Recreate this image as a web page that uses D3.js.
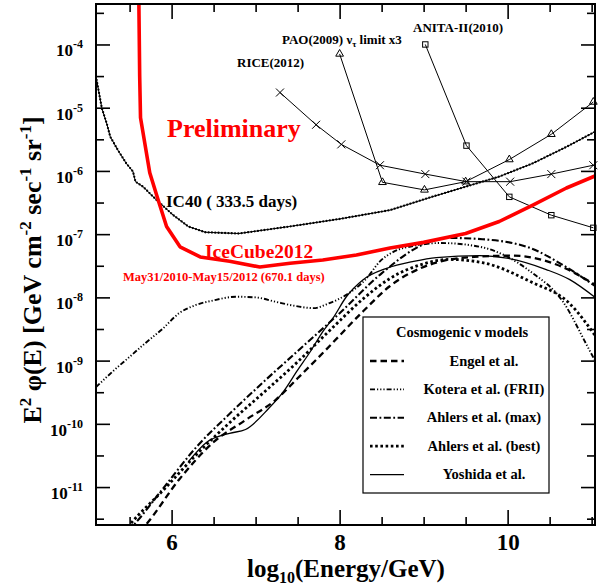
<!DOCTYPE html>
<html lang="en">

<head>
    <meta charset="UTF-8">
    <title>IceCube EHE neutrino limit</title>
    <script src="https://cdnjs.cloudflare.com/ajax/libs/d3/7.8.5/d3.min.js"></script>
    <style>
        body {
            margin: 0;
            background-color: white;
        }

        svg text {
            font-family: "Liberation Serif", "Times New Roman", serif;
            font-weight: bold;
        }
    </style>
</head>

<body>
    <div id="chart"></div>
    <script>
        // points are [log10(E/GeV), log10(E^2 phi)]
        const iceCube2012 = [[5.61, -3.3], [5.62, -4.5], [5.63, -5.16], [5.74, -6.03], [5.84, -6.46], [5.94, -6.88],
            [6.10, -7.20], [6.34, -7.36], [6.69, -7.43], [7.05, -7.52], [7.41, -7.46], [7.80, -7.41], [8.20, -7.33],
            [8.60, -7.22], [9.00, -7.13], [9.50, -6.99], [9.90, -6.80], [10.30, -6.54], [10.70, -6.27], [11.04, -6.08]];
        const ic40 = [[5.10, -4.51], [5.17, -5.01], [5.23, -5.26], [5.27, -5.46], [5.36, -5.67], [5.46, -5.88],
            [5.54, -6.01], [5.57, -6.17], [5.66, -6.25], [5.82, -6.46], [6.02, -6.70], [6.20, -6.88], [6.40, -6.97],
            [6.80, -6.99], [7.40, -6.88], [8.00, -6.76], [8.60, -6.62], [9.10, -6.41], [9.90, -6.09], [10.30, -5.88],
            [10.70, -5.62], [11.04, -5.38]];
        const rice = [[7.29, -4.76], [7.72, -5.27], [8.02, -5.58], [8.48, -5.91], [9.02, -6.05], [9.51, -6.17],
            [10.03, -6.17], [10.52, -6.05], [11.02, -5.91]];
        const pao = [[8.00, -4.15], [8.51, -6.18], [9.01, -6.30], [9.50, -6.17], [10.02, -5.82], [10.52, -5.42],
            [11.02, -4.91]];
        const anita = [[9.02, -4.00], [9.51, -5.60], [10.02, -6.41], [10.52, -6.70], [11.02, -6.90]];

        // cosmogenic models
        const engel = [[5.62, -11.7], [5.69, -11.6], [6.09, -10.88], [6.49, -10.30], [6.88, -9.94], [7.24, -9.62],
            [7.50, -9.28], [7.80, -8.88], [8.28, -8.22], [8.60, -7.82], [8.96, -7.54], [9.15, -7.45], [9.60, -7.36],
            [10.07, -7.34], [10.58, -7.48], [11.04, -7.80]];
        const kotera = [[5.10, -9.42], [5.30, -9.17], [5.50, -8.94], [5.69, -8.72], [5.89, -8.50], [6.09, -8.25],
            [6.29, -8.12], [6.49, -8.05], [6.77, -7.99], [7.00, -8.00], [7.24, -8.07], [7.45, -8.13], [7.69, -8.17],
            [7.88, -8.09], [8.08, -7.96], [8.32, -7.70], [8.48, -7.43], [8.64, -7.28], [8.90, -7.18], [9.20, -7.14],
            [9.67, -7.20], [10.27, -7.59], [10.66, -8.07], [10.94, -8.75], [11.04, -9.00]];
        const ahlersMax = [[5.48, -11.7], [5.55, -11.6], [5.90, -11.02], [6.30, -10.36], [6.70, -9.83], [7.10, -9.33],
            [7.50, -8.85], [8.00, -8.25], [8.50, -7.62], [9.00, -7.16], [9.30, -7.06], [9.70, -7.08], [10.27, -7.22],
            [10.66, -7.49], [11.04, -7.82]];
        const ahlersBest = [[5.44, -11.7], [5.50, -11.6], [5.90, -11.05], [6.30, -10.48], [6.70, -9.97], [7.10, -9.50],
            [7.50, -9.02], [7.90, -8.50], [8.30, -8.00], [8.60, -7.70], [9.00, -7.47], [9.30, -7.40], [9.70, -7.45],
            [10.27, -7.75], [10.74, -8.10], [11.04, -8.60]];
        const yoshida = [[6.20, -10.60], [6.41, -10.30], [6.69, -10.15], [6.88, -10.09], [7.16, -9.75], [7.32, -9.51],
            [7.50, -9.15], [7.65, -8.86], [7.80, -8.54], [7.92, -8.33], [8.08, -7.99], [8.28, -7.72], [8.56, -7.54],
            [8.88, -7.43], [9.15, -7.37], [9.67, -7.34], [9.99, -7.38], [10.46, -7.56], [10.74, -7.72], [11.04, -8.00]];

        const modelNames = ["Engel et al.", "Kotera et al. (FRII)", "Ahlers et al. (max)", "Ahlers et al. (best)", "Yoshida et al."];

        const xTicks = [6, 8, 10];
        const yExponents = [-11, -10, -9, -8, -7, -6, -5, -4];

        const width = 600;
        const height = 588;
        const plot = { left: 96, right: 595, top: 4, bottom: 525 };

        const svg = d3.select("#chart")
            .append("svg")
            .attr("width", width)
            .attr("height", height);

        const x = d3.scaleLinear()
            .domain([5.1, 11.04])
            .range([plot.left, plot.right]);

        const y = d3.scaleLog()
            .domain([Math.pow(10, -11.6), Math.pow(10, -3.36)])
            .range([plot.bottom, plot.top]);

        const line = d3.line()
            .x(d => x(d[0]))
            .y(d => y(Math.pow(10, d[1])));

        const smooth = d3.line()
            .x(d => x(d[0]))
            .y(d => y(Math.pow(10, d[1])))
            .curve(d3.curveMonotoneX);

        svg.append("clipPath")
            .attr("id", "plot-clip")
            .append("rect")
            .attr("x", plot.left)
            .attr("y", plot.top)
            .attr("width", plot.right - plot.left)
            .attr("height", plot.bottom - plot.top);

        const g = svg.append("g").attr("clip-path", "url(#plot-clip)");

        // model curves
        const models = [
            { data: engel, dash: "6.5,4", width: 2.3 },
            { data: kotera, dash: "5,2,1.2,2,1.2,2,1.2,2", width: 1.9 },
            { data: ahlersMax, dash: "7,2.5,1.8,2.5", width: 2.1 },
            { data: ahlersBest, dash: "2.6,2.6", width: 2.8 },
            { data: yoshida, dash: null, width: 1.3 }
        ];

        models.forEach(m => {
            g.append("path")
                .attr("d", smooth(m.data))
                .attr("fill", "none")
                .attr("stroke", "black")
                .attr("stroke-width", m.width)
                .attr("stroke-dasharray", m.dash);
        });

        // other experiments
        [rice, pao, anita].forEach(s => {
            g.append("path")
                .attr("d", line(s))
                .attr("fill", "none")
                .attr("stroke", "black")
                .attr("stroke-width", 1);
        });

        // IC40: thin line with beads on it
        g.append("path")
            .attr("d", line(ic40))
            .attr("fill", "none")
            .attr("stroke", "black")
            .attr("stroke-width", 1);
        g.append("path")
            .attr("d", line(ic40))
            .attr("fill", "none")
            .attr("stroke", "black")
            .attr("stroke-width", 2.3)
            .attr("stroke-linecap", "round")
            .attr("stroke-dasharray", "0,3.3");

        // IceCube 2012
        g.append("path")
            .attr("d", line(iceCube2012))
            .attr("fill", "none")
            .attr("stroke", "#ff0000")
            .attr("stroke-width", 3.6)
            .attr("stroke-linejoin", "round");

        // markers
        const markers = svg.append("g")
            .attr("fill", "none")
            .attr("stroke", "black")
            .attr("stroke-width", 1);

        markers.selectAll("path.cross")
            .data(rice)
            .enter()
            .append("path")
            .attr("class", "cross")
            .attr("transform", d => `translate(${x(d[0])},${y(Math.pow(10, d[1]))})`)
            .attr("d", "M-4,-4L4,4M-4,4L4,-4");

        markers.selectAll("path.tri")
            .data(pao)
            .enter()
            .append("path")
            .attr("class", "tri")
            .attr("transform", d => `translate(${x(d[0])},${y(Math.pow(10, d[1]))})`)
            .attr("d", d3.symbol(d3.symbolTriangle, 26));

        markers.selectAll("rect.sq")
            .data(anita)
            .enter()
            .append("rect")
            .attr("class", "sq")
            .attr("x", d => x(d[0]) - 2.7)
            .attr("y", d => y(Math.pow(10, d[1])) - 2.7)
            .attr("width", 5.4)
            .attr("height", 5.4);

        // axes with inner ticks on all four sides
        const xMinor = d3.range(5.5, 11.01, 0.5).filter(v => !xTicks.includes(v));
        const yMinor = yExponents.map(e => Math.pow(10, e + 0.5)).concat([Math.pow(10, -11.5)]);
        const yMajor = yExponents.map(e => Math.pow(10, e));

        function styleAxis(sel) {
            sel.select(".domain").remove();
            sel.selectAll("line").attr("stroke-width", 1.6);
        }

        svg.append("g")
            .attr("transform", `translate(0,${plot.bottom})`)
            .call(d3.axisBottom(x).tickValues(xTicks).tickSize(-15).tickPadding(9).tickFormat(d3.format("d")))
            .call(styleAxis)
            .selectAll("text")
            .attr("font-size", 23)
            .attr("fill", "black");
        svg.append("g")
            .attr("transform", `translate(0,${plot.bottom})`)
            .call(d3.axisBottom(x).tickValues(xMinor).tickSize(-8).tickFormat(""))
            .call(styleAxis);
        svg.append("g")
            .attr("transform", `translate(0,${plot.top})`)
            .call(d3.axisTop(x).tickValues(xTicks).tickSize(-15).tickFormat(""))
            .call(styleAxis);
        svg.append("g")
            .attr("transform", `translate(0,${plot.top})`)
            .call(d3.axisTop(x).tickValues(xMinor).tickSize(-8).tickFormat(""))
            .call(styleAxis);

        svg.append("g")
            .attr("transform", `translate(${plot.left},0)`)
            .call(d3.axisLeft(y).tickValues(yMajor).tickSize(-14).tickFormat(""))
            .call(styleAxis);
        svg.append("g")
            .attr("transform", `translate(${plot.left},0)`)
            .call(d3.axisLeft(y).tickValues(yMinor).tickSize(-8).tickFormat(""))
            .call(styleAxis);
        svg.append("g")
            .attr("transform", `translate(${plot.right},0)`)
            .call(d3.axisRight(y).tickValues(yMajor).tickSize(-14).tickFormat(""))
            .call(styleAxis);
        svg.append("g")
            .attr("transform", `translate(${plot.right},0)`)
            .call(d3.axisRight(y).tickValues(yMinor).tickSize(-8).tickFormat(""))
            .call(styleAxis);

        // y tick labels 10^n
        const yLabels = svg.selectAll("text.ylab")
            .data(yExponents)
            .enter()
            .append("text")
            .attr("class", "ylab")
            .attr("x", 83)
            .attr("y", d => y(Math.pow(10, d)) + 12)
            .attr("text-anchor", "end")
            .attr("font-size", 17);
        yLabels.append("tspan").text("10");
        yLabels.append("tspan")
            .attr("dy", -8)
            .attr("font-size", 12)
            .text(d => "-" + Math.abs(d));

        // frame
        svg.append("rect")
            .attr("x", plot.left)
            .attr("y", plot.top)
            .attr("width", plot.right - plot.left)
            .attr("height", plot.bottom - plot.top)
            .attr("fill", "none")
            .attr("stroke", "black")
            .attr("stroke-width", 2);

        // axis titles
        const xTitle = svg.append("text")
            .attr("x", 346)
            .attr("y", 577)
            .attr("text-anchor", "middle")
            .attr("font-size", 25);
        xTitle.append("tspan").text("log");
        xTitle.append("tspan").attr("dy", 6).attr("font-size", 16).text("10");
        xTitle.append("tspan").attr("dy", -6).text("(Energy/GeV)");

        const yTitle = svg.append("text")
            .attr("transform", "translate(41,270) rotate(-90)")
            .attr("text-anchor", "middle")
            .attr("font-size", 26);
        yTitle.append("tspan").text("E");
        yTitle.append("tspan").attr("dy", -10).attr("font-size", 17).text("2");
        yTitle.append("tspan").attr("dy", 10).text(" φ(E) [GeV cm");
        yTitle.append("tspan").attr("dy", -10).attr("font-size", 17).text("-2");
        yTitle.append("tspan").attr("dy", 10).text(" sec");
        yTitle.append("tspan").attr("dy", -10).attr("font-size", 17).text("-1");
        yTitle.append("tspan").attr("dy", 10).text(" sr");
        yTitle.append("tspan").attr("dy", -10).attr("font-size", 17).text("-1");
        yTitle.append("tspan").attr("dy", 10).text("]");

        // annotations
        svg.append("text").attr("x", 167).attr("y", 137).attr("font-size", 26).attr("fill", "#ff0000").text("Preliminary");
        svg.append("text").attr("x", 166).attr("y", 207).attr("font-size", 17).text("IC40 ( 333.5 days)");
        svg.append("text").attr("x", 205).attr("y", 258).attr("font-size", 19.5).attr("fill", "#ff0000").text("IceCube2012");
        svg.append("text").attr("x", 123).attr("y", 281).attr("font-size", 12.5).attr("fill", "#ff0000")
            .text("May31/2010-May15/2012 (670.1 days)");
        svg.append("text").attr("x", 237).attr("y", 67).attr("font-size", 13).text("RICE(2012)");
        svg.append("text").attr("x", 413).attr("y", 32).attr("font-size", 13).text("ANITA-II(2010)");
        const paoLabel = svg.append("text").attr("x", 282).attr("y", 44).attr("font-size", 13);
        paoLabel.append("tspan").text("PAO(2009) ν");
        paoLabel.append("tspan").attr("dy", 3).attr("font-size", 9).text("τ");
        paoLabel.append("tspan").attr("dy", -3).text(" limit x3");

        // legend
        const legend = svg.append("g");
        legend.append("rect")
            .attr("x", 363)
            .attr("y", 317)
            .attr("width", 186)
            .attr("height", 176)
            .attr("fill", "white")
            .attr("stroke", "black")
            .attr("stroke-width", 1.2);
        legend.append("text")
            .attr("x", 462)
            .attr("y", 337)
            .attr("text-anchor", "middle")
            .attr("font-size", 14.5)
            .text("Cosmogenic ν models");

        const legendRows = legend.selectAll("g.row")
            .data(models)
            .enter()
            .append("g")
            .attr("class", "row")
            .attr("transform", (d, i) => `translate(0,${361 + i * 28.4})`);
        legendRows.append("line")
            .attr("x1", 370)
            .attr("x2", 404)
            .attr("stroke", "black")
            .attr("stroke-width", d => d.width)
            .attr("stroke-dasharray", d => d.dash);
        legendRows.append("text")
            .attr("x", 484)
            .attr("y", 4.5)
            .attr("text-anchor", "middle")
            .attr("font-size", 14.5)
            .text((d, i) => modelNames[i]);
    </script>
</body>

</html>
